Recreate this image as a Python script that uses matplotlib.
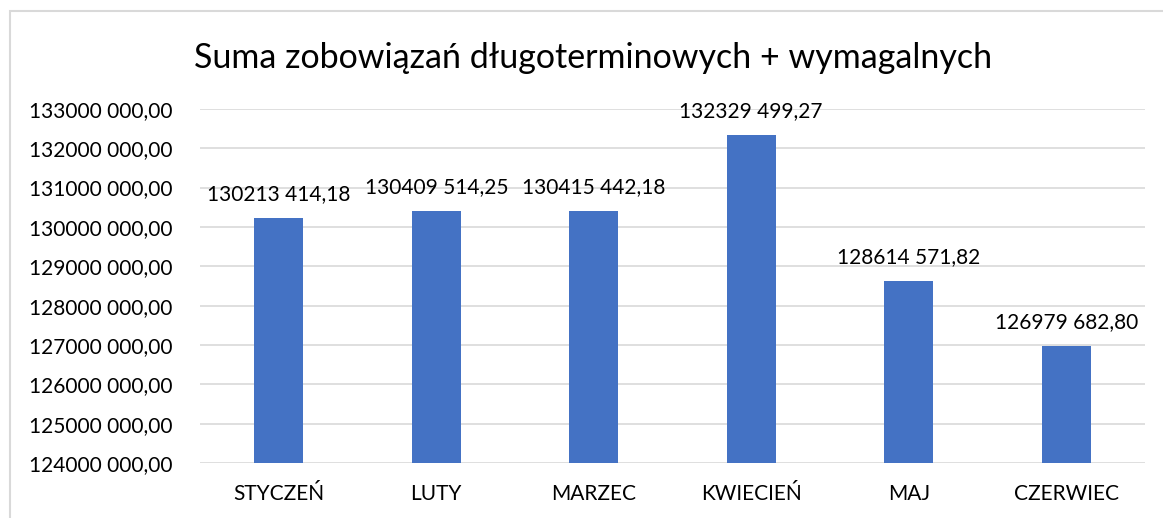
import numpy as np
import matplotlib.pyplot as plt
from matplotlib.patches import Rectangle

months = ['STYCZEŃ', 'LUTY', 'MARZEC', 'KWIECIEŃ', 'MAJ', 'CZERWIEC']
values = [130213414.18, 130409514.25, 130415442.18, 132329499.27, 128614571.82, 126979682.80]
yticks = np.arange(124000000, 133000001, 1000000)
title = 'Suma zobowiązań długoterminowych + wymagalnych'


def fmt(v):
    s = f'{v:.2f}'
    ip, dp = s.split('.')
    return f'{ip[:-3]} {ip[-3:]},{dp}'


plt.rcParams['font.family'] = ['Lato', 'DejaVu Sans']

fig = plt.figure(figsize=(11.63, 5.18), dpi=100)
ax = fig.add_axes([0.172, 0.106, 0.8125, 0.684])

# chart frame (cut off at right/bottom)
fig.patches.append(Rectangle((10 / 1163, -0.05), 1.1, 1 - 11 / 518 + 0.05,
                             transform=fig.transFigure, fill=False,
                             edgecolor='#d9d9d9', linewidth=1.5))

x = np.arange(len(months))
ax.bar(x, values, width=0.31, color='#4472c4', zorder=3)
for xi, v in zip(x, values):
    ax.annotate(fmt(v), (xi, v), xytext=(0, 10), textcoords='offset points',
                ha='center', va='bottom', fontsize=15, color='#000000')

ax.set_xlim(-0.5, len(months) - 0.5)
ax.set_ylim(124000000, 133000000)
ax.set_yticks(yticks)
ax.set_yticklabels([fmt(t) for t in yticks], fontsize=15)
ax.set_xticks(x)
ax.set_xticklabels(months, fontsize=15)
ax.tick_params(length=0)
ax.tick_params(axis='y', pad=20)
ax.tick_params(axis='x', pad=15)
ax.grid(axis='y', color='#d9d9d9', linewidth=1.2, zorder=0)
for s in ax.spines.values():
    s.set_visible(False)

fig.text(0.51, 0.888, title, ha='center', va='center', fontsize=24.5)

fig.savefig('out.png', dpi=100)
